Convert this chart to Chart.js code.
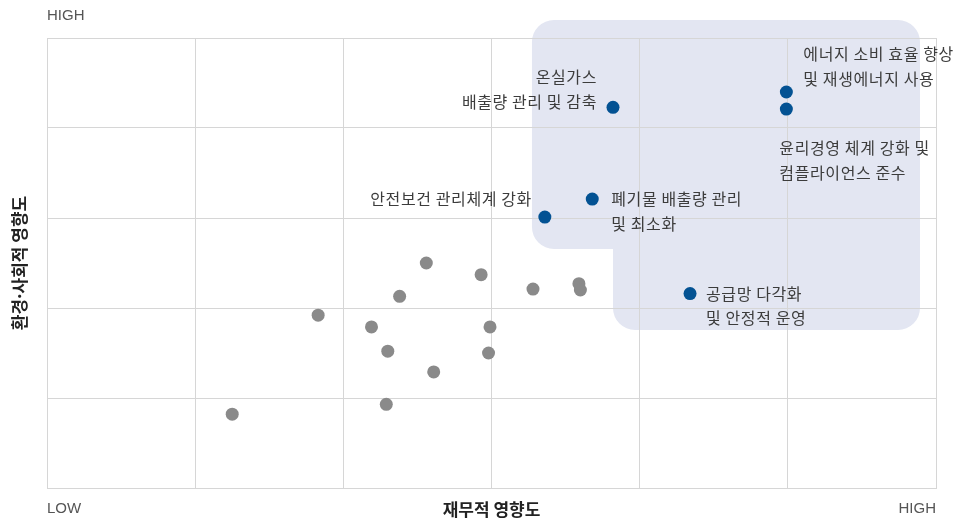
<!DOCTYPE html>
<html lang="ko">
<head>
<meta charset="utf-8">
<title>중대성 평가</title>
<script src="https://cdn.jsdelivr.net/npm/chart.js@4/dist/chart.umd.min.js"></script>
<style>
  html, body { margin: 0; padding: 0; background: #fff; }
  #wrap { width: 957px; height: 520px; }
</style>
</head>
<body>
<div id="wrap"><canvas id="chart" width="957" height="520"></canvas></div>
<script>
// 축 라벨
const axisLow = 'LOW';
const axisHigh = 'HIGH';
const xTitle = '재무적 영향도';
const yTitle = '환경·사회적 영향도';

// 일반 이슈 (회색) — x: 재무적, y: 환경·사회적
const otherX = [2.56, 2.93, 2.38, 3.28, 3.59, 3.60, 1.83, 2.19, 2.99, 2.30, 2.98, 2.61, 2.29, 1.25];
const otherY = [2.50, 2.37, 2.13, 2.21, 2.27, 2.20, 1.92, 1.79, 1.79, 1.52, 1.50, 1.29, 0.93, 0.82];

// 중대 이슈 (파랑)
const keyNames = [
  '온실가스\n배출량 관리 및 감축',
  '에너지 소비 효율 향상\n및 재생에너지 사용',
  '윤리경영 체계 강화 및\n컴플라이언스 준수',
  '안전보건 관리체계 강화',
  '폐기물 배출량 관리\n및 최소화',
  '공급망 다각화\n및 안정적 운영',
];
const keyX = [3.82, 4.99, 4.99, 3.36, 3.68, 4.34];
const keyY = [4.23, 4.40, 4.21, 3.01, 3.21, 2.16];

// 라벨 배치 (정렬, 점 기준 오프셋 px)
const labelPlace = [
  { align: 'right', dx: -16, dy: -30 },
  { align: 'left', dx: 17, dy: -38 },
  { align: 'left', dx: -7, dy: 39 },
  { align: 'right', dx: -13, dy: -18 },
  { align: 'left', dx: 19, dy: 0 },
  { align: 'left', dx: 16, dy: 0 },
];

const BLUE = '#035293';
const GRAY = '#8a8a8a';
const GRID = '#d6d6d6';
const HILITE = '#e3e6f2';
const TEXT = '#3c3c3c';
const KFONT = "'Noto Sans CJK KR', 'Noto Sans', sans-serif";
const NARROW = "'Liberation Sans Narrow', 'Liberation Sans', Arial, sans-serif";

// 강조 영역 (데이터 좌표): 좌, 단차, 우, 상, 중, 하
const zone = { left: 3.273, step: 3.82, right: 5.892, top: 5.2, mid: 2.656, bottom: 1.756 };

const highlightZone = {
  id: 'highlightZone',
  beforeDraw(chart) {
    const { ctx, scales: { x, y } } = chart;
    const L = x.getPixelForValue(zone.left);
    const S = x.getPixelForValue(zone.step);
    const R = x.getPixelForValue(zone.right);
    const T = y.getPixelForValue(zone.top);
    const M = y.getPixelForValue(zone.mid);
    const B = y.getPixelForValue(zone.bottom);
    const r = 22;
    ctx.save();
    ctx.fillStyle = HILITE;
    ctx.beginPath();
    ctx.moveTo(L + r, T);
    ctx.arcTo(R, T, R, B, r);
    ctx.arcTo(R, B, S, B, r);
    ctx.arcTo(S, B, S, M, r);
    ctx.lineTo(S, M);
    ctx.arcTo(L, M, L, T, r);
    ctx.arcTo(L, T, R, T, r);
    ctx.closePath();
    ctx.fill();
    ctx.restore();
  },
};

const annotations = {
  id: 'annotations',
  afterDatasetsDraw(chart) {
    const { ctx, chartArea } = chart;
    ctx.save();
    ctx.textBaseline = 'middle';

    // 이슈 라벨
    ctx.fillStyle = TEXT;
    ctx.font = `400 16px ${KFONT}`;
    ctx.letterSpacing = '0.6px';
    const meta = chart.getDatasetMeta(1);
    meta.data.forEach((pt, i) => {
      const p = labelPlace[i];
      const lines = keyNames[i].split('\n');
      ctx.textAlign = p.align;
      lines.forEach((line, j) => {
        ctx.fillText(line, pt.x + p.dx, pt.y + p.dy + j * 24.5);
      });
    });
    ctx.letterSpacing = '0px';

    // HIGH / LOW
    ctx.fillStyle = '#555';
    ctx.font = `15px ${NARROW}`;
    ctx.textAlign = 'left';
    ctx.fillText(axisHigh, chartArea.left, 16);
    ctx.fillText(axisLow, chartArea.left, 509);
    ctx.textAlign = 'right';
    ctx.fillText(axisHigh, chartArea.right, 509);

    // 축 제목
    ctx.fillStyle = '#222';
    ctx.font = `700 17px ${KFONT}`;
    ctx.textAlign = 'center';
    ctx.fillText(xTitle, (chartArea.left + chartArea.right) / 2, 510);
    ctx.translate(20, (chartArea.top + chartArea.bottom) / 2);
    ctx.rotate(-Math.PI / 2);
    ctx.fillText(yTitle, 0, 0);
    ctx.restore();
  },
};

const axis = (max) => ({
  type: 'linear',
  min: 0,
  max,
  ticks: { display: false, stepSize: 1 },
  grid: { color: GRID, lineWidth: 1, drawTicks: false },
  border: { display: true, color: GRID },
});

new Chart(document.getElementById('chart'), {
  type: 'scatter',
  data: {
    datasets: [
      {
        label: 'other',
        data: otherX.map((v, i) => ({ x: v, y: otherY[i] })),
        backgroundColor: GRAY,
        borderWidth: 0,
        pointRadius: 6.5,
      },
      {
        label: 'key',
        data: keyX.map((v, i) => ({ x: v, y: keyY[i] })),
        backgroundColor: BLUE,
        borderWidth: 0,
        pointRadius: 6.5,
      },
    ],
  },
  options: {
    responsive: false,
    animation: false,
    layout: { padding: { left: 47, right: 21, top: 38, bottom: 32 } },
    plugins: {
      legend: { display: false },
      tooltip: { enabled: false },
    },
    scales: { x: axis(6), y: axis(5) },
  },
  plugins: [highlightZone, annotations],
});
</script>
</body>
</html>
